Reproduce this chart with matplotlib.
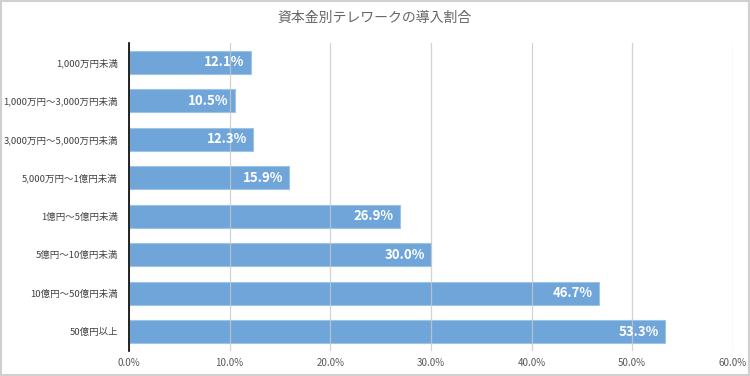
import matplotlib
matplotlib.use("Agg")
import matplotlib.pyplot as plt
from matplotlib.patches import Rectangle

plt.rcParams["font.family"] = ["Noto Sans CJK JP", "DejaVu Sans"]

categories = [
    "1,000万円未満", "1,000万円～3,000万円未満", "3,000万円～5,000万円未満",
    "5,000万円～1億円未満", "1億円～5億円未満", "5億円～10億円未満",
    "10億円～50億円未満", "50億円以上",
]
values = [12.1, 10.5, 12.3, 15.9, 26.9, 30.0, 46.7, 53.3]
xticks = [0, 10, 20, 30, 40, 50, 60]

fig = plt.figure(figsize=(7.5, 3.76), dpi=100)
ax = fig.add_axes([0.172, 0.0665, 0.805, 0.819])

y = list(range(len(categories)))
ax.barh(y, values, height=0.6, color="#6fa5d9", edgecolor="#9cc3e8", linewidth=0.8, zorder=2)
for yi, v in zip(y, values):
    ax.text(v - 0.6, yi, f"{v:.1f}%", ha="right", va="center", color="white",
            fontsize=9.5, fontweight="bold", zorder=4)

ax.set_xlim(0, 60)
ax.set_ylim(len(categories) - 0.5, -0.5)
ax.set_yticks(y)
ax.set_yticklabels(categories, fontsize=6.8, color="#404040")
ax.set_xticks(xticks)
ax.set_xticklabels([f"{t:.1f}%" for t in xticks], fontsize=7, color="#595959")
ax.tick_params(length=0, pad=8)
ax.tick_params(axis="x", pad=5)
ax.xaxis.grid(True, color="#c8c8c8", linewidth=0.9, alpha=0.8, zorder=3)
ax.set_axisbelow(False)
for s in ["top", "right", "bottom"]:
    ax.spines[s].set_visible(False)
ax.spines["left"].set_color("black")
ax.spines["left"].set_linewidth(1.2)
ax.spines["left"].set_zorder(5)

fig.text(0.5, 0.952, "資本金別テレワークの導入割合", ha="center", va="center",
         fontsize=10, color="#666666")
fig.patches.append(Rectangle((0.001, 0.002), 0.997, 0.995, transform=fig.transFigure,
                             fill=False, edgecolor="#d0d0d0", linewidth=1.5))

fig.savefig("out.png", dpi=100)
